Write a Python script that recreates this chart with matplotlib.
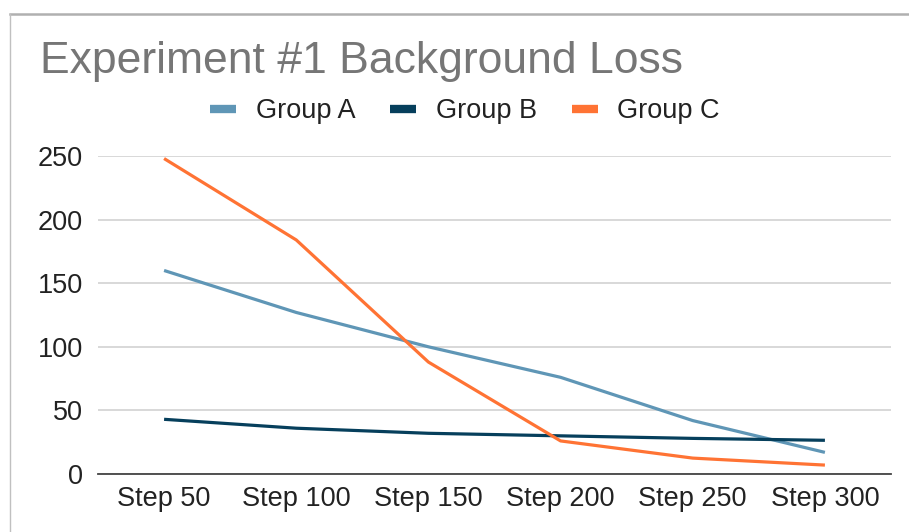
import matplotlib
matplotlib.use("Agg")
import matplotlib.pyplot as plt
from matplotlib.lines import Line2D

plt.rcParams['font.family'] = ['Liberation Sans', 'DejaVu Sans']

steps = ["Step 50", "Step 100", "Step 150", "Step 200", "Step 250", "Step 300"]
group_a = [160, 127, 100, 76, 42, 17]
group_b = [43, 36, 32, 30, 28, 26.5]
group_c = [248, 184, 88, 26, 12.5, 7]

colors = {"Group A": "#5f96b6", "Group B": "#063f5c", "Group C": "#ff7334"}

fig = plt.figure(figsize=(9.09, 5.32), dpi=100)
ax = fig.add_axes([98 / 909, 58 / 532, 793 / 909, 318 / 532])

x = range(len(steps))
for name, vals in [("Group A", group_a), ("Group B", group_b), ("Group C", group_c)]:
    ax.plot(x, vals, color=colors[name], lw=2.3, solid_capstyle="butt", zorder=3)

ax.set_xlim(-0.5, len(steps) - 0.5)
ax.set_ylim(0, 250)
ax.set_yticks([0, 50, 100, 150, 200, 250])
ax.set_xticks(list(x))
ax.set_xticklabels(steps)
ax.tick_params(length=0, labelsize=19.5, colors="#222222", pad=9)
ax.tick_params(axis="y", pad=11)
ax.grid(axis="y", color="#d6d6d6", lw=1.3)
ax.set_axisbelow(True)
for s in ["top", "right", "left"]:
    ax.spines[s].set_visible(False)
ax.spines["bottom"].set_color("#444444")
ax.spines["bottom"].set_linewidth(1.3)
ax.spines["bottom"].set_zorder(4)

fig.text(40 / 909, 1 - 62 / 532, "Experiment #1 Background Loss", fontsize=32,
         color="#767676", va="center", ha="left")

handles = [Line2D([], [], color=colors[n], lw=6, solid_capstyle="butt") for n in colors]
fig.legend(handles, list(colors), loc="center", bbox_to_anchor=(465 / 909, 1 - 111 / 532),
           ncol=3, frameon=False, fontsize=19.5, handlelength=0.95, handletextpad=0.72,
           columnspacing=1.3, labelcolor="#222222")

# sheet border around the embedded chart
fig.add_artist(Line2D([10 / 909, 1], [1 - 14 / 532] * 2, color="#b0b0b0", lw=1.8))
fig.add_artist(Line2D([10 / 909] * 2, [0, 1 - 14 / 532], color="#c0c0c0", lw=1))

fig.savefig("out.png", dpi=100, facecolor="white")
